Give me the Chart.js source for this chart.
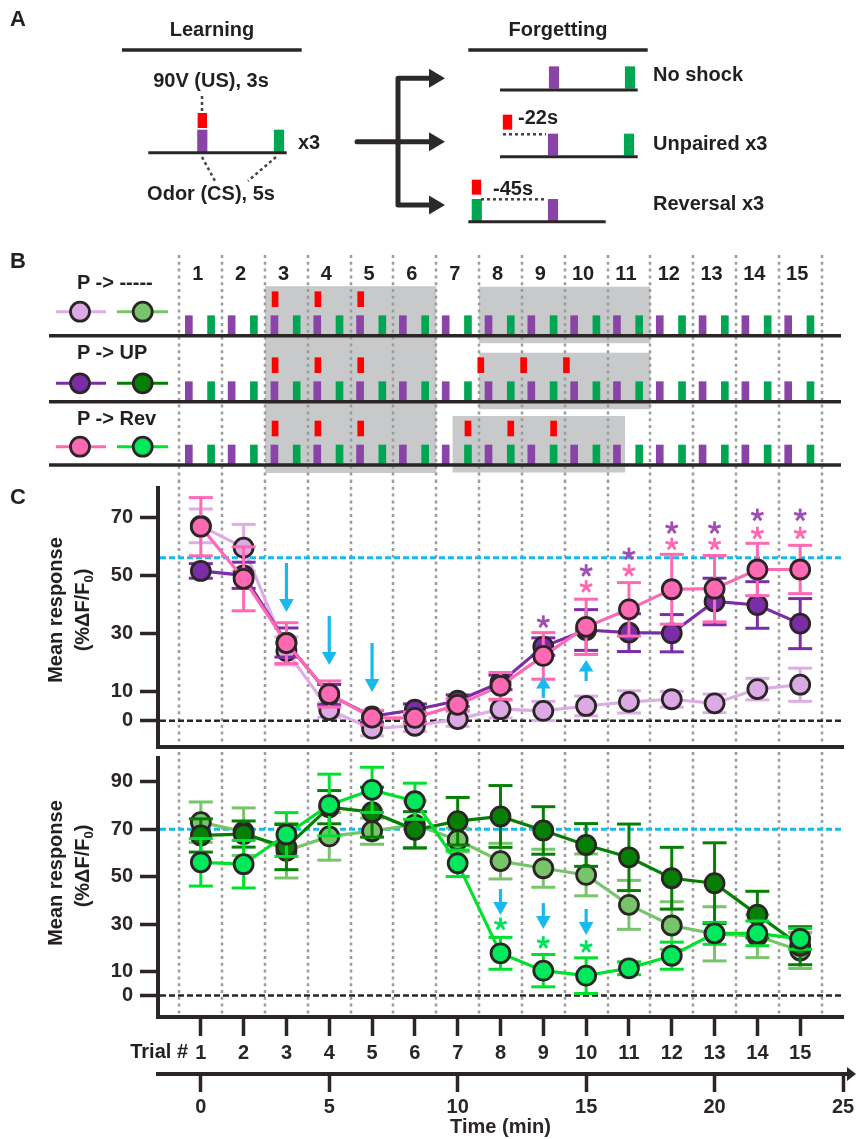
<!DOCTYPE html>
<html>
<head>
<meta charset="utf-8">
<script src="https://cdn.jsdelivr.net/npm/chart.js@4.4.1/dist/chart.umd.min.js"></script>
<style>
html, body { margin: 0; padding: 0; background: #fff; }
#fig { position: relative; width: 856px; height: 1139px; overflow: hidden;
  font-family: "Liberation Sans", Arial, Helvetica, sans-serif; font-weight: bold; color: #231f20; }
#fig canvas { position: absolute; left: 0; }
.t { position: absolute; white-space: nowrap; font-size: 20px; line-height: 20px; }
.c { transform: translate(-50%, -50%); }
.l { transform: translateY(-50%); }
.r { transform: translate(-100%, -50%); }
.v { transform: translate(-50%, -50%) rotate(-90deg); }
.big { font-size: 22px; line-height: 22px; }
sub { font-size: 13px; vertical-align: -4px; line-height: 0; }
</style>
</head>
<body>
<div id="fig">
  <canvas id="chartA" width="856" height="240" style="top:0"></canvas>
  <canvas id="chartB" width="856" height="235" style="top:245px"></canvas>
  <canvas id="chartC1" width="856" height="272" style="top:480px"></canvas>
  <canvas id="chartC2" width="856" height="387" style="top:752px"></canvas>

  <div class="t c big" style="left:18px;top:19px">A</div>
  <div class="t c" style="left:212px;top:29px">Learning</div>
  <div class="t c" style="left:211px;top:80px">90V (US), 3s</div>
  <div class="t c" style="left:211px;top:193px">Odor (CS), 5s</div>
  <div class="t l" style="left:298px;top:142px">x3</div>
  <div class="t c" style="left:558px;top:29px">Forgetting</div>
  <div class="t l" style="left:653px;top:74px">No shock</div>
  <div class="t l" style="left:518px;top:117px">-22s</div>
  <div class="t l" style="left:653px;top:143px">Unpaired x3</div>
  <div class="t l" style="left:493px;top:188px">-45s</div>
  <div class="t l" style="left:653px;top:203px">Reversal x3</div>

  <div class="t c big" style="left:18px;top:261px">B</div>
  <div class="t l" style="left:77px;top:282px">P -&gt; -----</div>
  <div class="t l" style="left:77px;top:352px">P -&gt; UP</div>
  <div class="t l" style="left:77px;top:418px">P -&gt; Rev</div>
  <div id="trialNums"></div>

  <div class="t c big" style="left:18px;top:497px">C</div>
  <div class="t v" style="left:55px;top:610px">Mean response</div>
  <div class="t v" style="left:82px;top:610px">(%ΔF/F<sub>0</sub>)</div>
  <div class="t v" style="left:55px;top:873px">Mean response</div>
  <div class="t v" style="left:82px;top:866px">(%ΔF/F<sub>0</sub>)</div>
  <div class="t r" style="left:188px;top:1051px">Trial #</div>
</div>

<script>
// ---- data ----
const trials = [1, 2, 3, 4, 5, 6, 7, 8, 9, 10, 11, 12, 13, 14, 15];

// C top: responses to the paired odor (P)
const pNoShock    = [67, 59.5, 24, 3.7, -2.7, -1.7, 0.6, 4.0, 3.4, 5.1, 6.5, 7.4, 6.0, 10.9, 12.4];
const pNoShockErr = [5.8, 8, 4.8, 2.5, 2.5, 2, 2.5, 3, 3.3, 3.4, 3.8, 2.7, 3.2, 3.7, 5.7];
const pUnpaired    = [51.5, 50, 26.9, 9, 1.5, 3.8, 6.9, 13.2, 25.5, 31.2, 30.3, 30.1, 41, 39.8, 33.4];
const pUnpairedErr = [2.5, 4.5, 5, 3.5, 2, 2, 2, 2.5, 3, 7, 6.5, 6.4, 8, 8, 8.6];
const pReversal    = [66.7, 48.8, 26.7, 9.2, 1.1, 1.0, 5.5, 12, 22.3, 32.3, 38.3, 45.2, 45.4, 52, 52];
const pReversalErr = [10, 11, 7, 4.5, 2.5, 2, 2, 4.6, 8, 9.5, 9.2, 12, 11.4, 9, 8.3];

// C bottom: responses to the second odor
const gNoShock    = [73, 69, 61, 67, 69.2, 72, 65.5, 56.6, 53.6, 50.8, 38.2, 29.5, 26, 25, 19];
const gNoShockErr = [8.5, 10, 11.5, 10, 5.5, 10, 5, 7.5, 8, 8.8, 10.3, 10, 11.4, 9, 7.6];
const gUnpaired    = [67.4, 68, 62.5, 79.3, 77.2, 69.8, 73.4, 75.4, 69.5, 63.4, 58.2, 49.4, 47.3, 34.1, 21];
const gUnpairedErr = [7, 5.5, 9.5, 7, 10.5, 7.6, 10, 13, 10, 9, 14, 13, 17, 9.8, 8];
const gReversal    = [56.1, 55.3, 67.8, 80.2, 86.6, 81.8, 55.7, 17.8, 10.5, 8.4, 11.5, 16.8, 26.2, 26.2, 23.9];
const gReversalErr = [10, 10, 9.2, 13, 9.5, 7.6, 5.6, 6.7, 6.8, 7.5, 2.7, 5.7, 4.6, 5.2, 4.4];

const topTicks = [0, 10, 30, 50, 70];
const bottomTicks = [0, 10, 30, 50, 70, 90];
const timeTicks = [0, 5, 10, 15, 20, 25];
const topBaseline = 56;
const bottomBaseline = 70;

// significance marks and arrows (trial, level)
const purpleStarTrials = [9, 10, 11, 12, 13, 14, 15];
const purpleStarLevel  = [34, 51.6, 57.3, 66.3, 66.3, 70.7, 70.7];
const pinkStarTrials = [10, 11, 12, 13, 14, 15];
const pinkStarLevel  = [46.1, 51.6, 60.7, 60.7, 64.5, 64.5];
const greenStarTrials = [8, 9, 10];
const greenStarLevel  = [30.1, 22.3, 20.6];
const downArrowTopTrials = [3, 4, 5];
const downArrowTopTip    = [37.4, 19.2, 9.9];
const upArrowTopTrials = [9, 10];
const upArrowTopTip    = [15.1, 20.9];
const downArrowBottomTrials = [8, 9, 10];
const downArrowBottomTip    = [33.9, 28, 25.5];

// B protocol
const protocolRows = ['P -> -----', 'P -> UP', 'P -> Rev'];
const trainShockTrials = [3, 4, 5];
const unpairedShockTrials = [8, 9, 10];
const reversalShockTrials = [7, 8, 9];
const trainWindow = [2.5, 6.5];
const forgetWindows = [[7.5, 11.5], [7.5, 11.5], [6.88, 10.91]];

// A schematic (layout units of the schematic canvas)
const schemPurple = [[202.3, 130, 151.7], [554, 66.7, 88.3], [553, 134, 155], [553, 199.3, 220.7]];
const schemGreen  = [[279, 130, 151.7], [630, 66.7, 88.3], [629, 134, 155], [476.8, 199.3, 220.7]];
const schemShock  = [[202.3, 113.3, 127.7], [507.5, 115, 129.3], [476.5, 180, 194.3]];
const schemRules  = [[122, 301.7, 50], [468.3, 647.7, 50]];
const schemTimelines = [[148.3, 286.7, 152.7], [500, 637.7, 90], [500, 637.7, 156.7], [468.3, 605.7, 221.7]];
const schemDots = [[202, 96, 202, 112], [202, 157, 215, 181], [276, 157, 248, 181], [503, 134.3, 546, 134.3], [481, 199.3, 546, 199.3]];
const forkY = [78.3, 141.7, 205];

// ---- style ----
const COL = {
  lp: '#DBA9E3', lpLine: '#DDAEE6', dp: '#7B2DA7', pk: '#FF69B4',
  lg: '#78C46B', dg: '#058005', bgFill: '#00E85C', bgLine: '#00E02E',
  odorP: '#8A43A6', odorG: '#00A651', shock: '#FF0000', cyan: '#17B9EE',
  ink: '#2B2526', grid: '#9B9B9B', box: '#C7C9CB',
  starP: '#9C50B5', starK: '#FF69B4', starG: '#00E05C'
};
const AXIS_LEFT = 158, TRIAL_PX = 42.8125;
const pxToTrial = px => (px - AXIS_LEFT) / TRIAL_PX;
const rowBase = [90.7, 156.7, 220];
const legendY = [66.7, 138.3, 201.7];
const legendColors = [[COL.lp, COL.lpLine, COL.lg, COL.lg], [COL.dp, COL.dp, COL.dg, COL.dg], [COL.pk, COL.pk, COL.bgFill, COL.bgLine]];

Chart.defaults.font.family = '"Liberation Sans", Arial, Helvetica, sans-serif';
Chart.defaults.font.weight = 'bold';
Chart.defaults.animation = false;
Chart.defaults.plugins.legend.display = false;
Chart.defaults.plugins.tooltip.enabled = false;

const hidden = (min, max, reverse) => ({ type: 'linear', display: false, min, max, reverse: !!reverse, offset: false, bounds: 'data' });

function seg(ctx, x1, y1, x2, y2) { ctx.beginPath(); ctx.moveTo(x1, y1); ctx.lineTo(x2, y2); ctx.stroke(); }
function noPad(s) { s.paddingTop = 0; s.paddingBottom = 0; s.paddingLeft = 0; s.paddingRight = 0; }

// trial numbers above panel B
const tn = document.getElementById('trialNums');
trials.forEach(t => {
  const d = document.createElement('div');
  d.className = 't c';
  d.style.left = (AXIS_LEFT + t * TRIAL_PX - 3) + 'px';
  d.style.top = '273px';
  d.textContent = t;
  tn.appendChild(d);
});

// ---- panel A ----
const schemBar = (rows, color, w) => ({
  type: 'bar', data: rows.map(r => ({ x: r[0], y: [r[1], r[2]] })),
  backgroundColor: color, barThickness: w, grouped: false, borderWidth: 0
});
const schemPlugin = {
  id: 'schem',
  afterDatasetsDraw(chart) {
    const { ctx, scales: { x, y } } = chart;
    const X = v => x.getPixelForValue(v), Y = v => y.getPixelForValue(v);
    ctx.save();
    ctx.strokeStyle = COL.ink; ctx.lineWidth = 3.5;
    schemRules.forEach(r => seg(ctx, X(r[0]), Y(r[2]), X(r[1]), Y(r[2])));
    ctx.lineWidth = 3;
    schemTimelines.forEach(r => seg(ctx, X(r[0]), Y(r[2]), X(r[1]), Y(r[2])));
    ctx.strokeStyle = '#444'; ctx.lineWidth = 2.5; ctx.setLineDash([3, 3]);
    schemDots.forEach(d => seg(ctx, X(d[0]), Y(d[1]), X(d[2]), Y(d[3])));
    ctx.setLineDash([]);
    // branching arrows
    ctx.strokeStyle = '#2d2929'; ctx.fillStyle = '#2d2929'; ctx.lineWidth = 5;
    ctx.lineJoin = 'round'; ctx.lineCap = 'round';
    ctx.beginPath();
    ctx.moveTo(X(432), Y(forkY[0])); ctx.lineTo(X(398), Y(forkY[0]));
    ctx.lineTo(X(398), Y(forkY[2])); ctx.lineTo(X(432), Y(forkY[2]));
    ctx.stroke();
    seg(ctx, X(357), Y(forkY[1]), X(432), Y(forkY[1]));
    forkY.forEach(fy => {
      ctx.beginPath();
      ctx.moveTo(X(445), Y(fy)); ctx.lineTo(X(429), Y(fy) - 9.5); ctx.lineTo(X(429), Y(fy) + 9.5);
      ctx.closePath(); ctx.fill();
    });
    ctx.restore();
  }
};
new Chart(document.getElementById('chartA'), {
  type: 'bar',
  data: { datasets: [schemBar(schemShock, COL.shock, 8.7), schemBar(schemPurple, COL.odorP, 9.5), schemBar(schemGreen, COL.odorG, 9.5)] },
  options: {
    responsive: false, devicePixelRatio: 1, layout: { padding: 0, autoPadding: false },
    scales: { x: hidden(0, 856), y: hidden(0, 240, true) }
  },
  plugins: [schemPlugin]
});

// ---- panel B ----
const odorBars = (offset, color) => ({
  type: 'bar', grouped: false, barThickness: 7, borderWidth: 0, backgroundColor: color,
  data: rowBase.flatMap(b => trials.map(t => ({ x: t + offset, y: [b - 20, b] })))
});
const shockData = [];
rowBase.forEach((b, r) => {
  trainShockTrials.forEach(t => shockData.push({ x: t - 0.265, y: [b - 44, b - 29] }));
  if (r === 1) unpairedShockTrials.forEach(t => shockData.push({ x: t - 0.46, y: [b - 44, b - 29] }));
  if (r === 2) reversalShockTrials.forEach(t => shockData.push({ x: t + 0.24, y: [b - 44, b - 29] }));
});
const legendSets = [];
legendY.forEach((ly, r) => {
  [[56, 80, 106], [117, 142.7, 168]].forEach((xs, k) => {
    legendSets.push({
      type: 'line', data: xs.map(px => ({ x: pxToTrial(px), y: ly })),
      borderColor: legendColors[r][k * 2 + 1], borderWidth: 3,
      pointRadius: [0, 9.5, 0], pointBackgroundColor: legendColors[r][k * 2],
      pointBorderColor: COL.ink, pointBorderWidth: 2.8
    });
  });
});
const protocolPlugin = {
  id: 'protocol',
  beforeDatasetsDraw(chart) {
    const { ctx, scales: { x, y } } = chart;
    ctx.save();
    ctx.fillStyle = COL.box;
    const box = (t0, t1, y0, y1) => ctx.fillRect(x.getPixelForValue(t0), y.getPixelForValue(y0),
      x.getPixelForValue(t1) - x.getPixelForValue(t0), y.getPixelForValue(y1) - y.getPixelForValue(y0));
    box(trainWindow[0], trainWindow[1], rowBase[0] - 49.5, rowBase[2] + 8);
    forgetWindows.forEach((w, r) => box(w[0], w[1], rowBase[r] - 49, rowBase[r] + 7.5));
    ctx.strokeStyle = COL.grid; ctx.lineWidth = 2.5; ctx.setLineDash([3, 3.8]);
    for (let b = 0.5; b < 16; b++) {
      const px = Math.round(x.getPixelForValue(b));
      seg(ctx, px, 10, px, chart.height);
    }
    ctx.restore();
  },
  afterDatasetsDraw(chart) {
    const { ctx, scales: { y } } = chart;
    ctx.save();
    ctx.strokeStyle = COL.ink; ctx.lineWidth = 3.5;
    rowBase.forEach(b => seg(ctx, 49, y.getPixelForValue(b), 841, y.getPixelForValue(b)));
    ctx.restore();
  }
};
new Chart(document.getElementById('chartB'), {
  type: 'bar',
  data: { datasets: [...legendSets, odorBars(-0.28, COL.odorP), odorBars(0.24, COL.odorG),
    { type: 'bar', grouped: false, barThickness: 6, borderWidth: 0, backgroundColor: COL.shock, data: shockData }] },
  options: {
    responsive: false, devicePixelRatio: 1, layout: { padding: 0, autoPadding: false },
    scales: { x: hidden(-AXIS_LEFT / TRIAL_PX, (856 - AXIS_LEFT) / TRIAL_PX), y: hidden(0, 235, true) }
  },
  plugins: [protocolPlugin]
});

// ---- panel C ----
function series(values, errors, line, fill, order) {
  return {
    data: trials.map((t, i) => ({ x: t, y: values[i] })), errors,
    borderColor: line, backgroundColor: fill, borderWidth: 3.2,
    pointRadius: 9.5, pointBackgroundColor: fill, pointBorderColor: COL.ink, pointBorderWidth: 2.8,
    tension: 0, order, clip: false
  };
}
const errorBars = {
  id: 'errorBars',
  beforeDatasetDraw(chart, args) {
    const ds = chart.data.datasets[args.index];
    if (!ds.errors) return;
    const { ctx, scales: { x, y } } = chart;
    ctx.save();
    ctx.strokeStyle = ds.borderColor; ctx.lineWidth = 3;
    ds.data.forEach((p, i) => {
      const px = x.getPixelForValue(p.x);
      const top = y.getPixelForValue(p.y + ds.errors[i]);
      const bot = y.getPixelForValue(p.y - ds.errors[i]);
      seg(ctx, px, top, px, bot);
      seg(ctx, px - 12, top, px + 12, top);
      seg(ctx, px - 12, bot, px + 12, bot);
    });
    ctx.restore();
  }
};
function arrow(ctx, px, tip, len, up) {
  const s = up ? 1 : -1, head = Math.min(13, len * 0.55);
  ctx.lineWidth = 3.2;
  seg(ctx, px, tip + s * len, px, tip + s * (head - 1));
  ctx.beginPath();
  ctx.moveTo(px, tip); ctx.lineTo(px - 7.3, tip + s * head); ctx.lineTo(px + 7.3, tip + s * head);
  ctx.closePath(); ctx.fill();
}
function asterisk(ctx, px, py) {
  ctx.lineWidth = 2.8;
  for (let k = 0; k < 5; k++) {
    const a = -Math.PI / 2 + k * 2 * Math.PI / 5;
    seg(ctx, px, py, px + 6.5 * Math.cos(a), py + 6.5 * Math.sin(a));
  }
}
const panelC = {
  id: 'panelC',
  beforeDatasetsDraw(chart, args, o) {
    const { ctx, chartArea: a, scales: { x, y } } = chart;
    ctx.save();
    ctx.strokeStyle = COL.grid; ctx.lineWidth = 2.5; ctx.setLineDash([3, 3.8]);
    for (let b = 0.5; b < 16; b++) {
      const px = Math.round(x.getPixelForValue(b));
      seg(ctx, px, 0, px, a.bottom - 2);
    }
    ctx.setLineDash([6, 3]); ctx.lineWidth = 2.5; ctx.strokeStyle = COL.ink;
    seg(ctx, a.left + 2, y.getPixelForValue(0), a.right, y.getPixelForValue(0));
    ctx.lineWidth = 3; ctx.strokeStyle = COL.cyan;
    seg(ctx, a.left + 2, y.getPixelForValue(o.baseline), a.right, y.getPixelForValue(o.baseline));
    ctx.restore();
  },
  afterDatasetsDraw(chart, args, o) {
    const { ctx, scales: { x, y } } = chart;
    ctx.save();
    o.stars.forEach(s => {
      ctx.strokeStyle = s.color;
      s.trials.forEach((t, i) => asterisk(ctx, x.getPixelForValue(t), y.getPixelForValue(s.level[i])));
    });
    ctx.strokeStyle = COL.cyan; ctx.fillStyle = COL.cyan;
    o.arrows.forEach(ar => {
      ar.trials.forEach((t, i) => arrow(ctx, x.getPixelForValue(t), y.getPixelForValue(ar.tip[i]), ar.len, ar.up));
    });
    ctx.restore();
  }
};
const tickFont = { size: 20, weight: 'bold' };
const yAxis = (min, max, ticks) => ({
  type: 'linear', min, max, bounds: 'data',
  afterBuildTicks: s => { s.ticks = ticks.map(v => ({ value: v })); },
  afterFit: s => { s.width = AXIS_LEFT; noPad(s); },
  grid: { drawOnChartArea: false, drawTicks: true, tickLength: 18, tickWidth: 3.5, tickColor: COL.ink },
  border: { display: true, width: 4, color: COL.ink },
  ticks: { padding: 7, font: tickFont, color: COL.ink }
});

new Chart(document.getElementById('chartC1'), {
  type: 'line',
  data: { datasets: [
    series(pReversal, pReversalErr, COL.pk, COL.pk, 0),
    series(pUnpaired, pUnpairedErr, COL.dp, COL.dp, 1),
    series(pNoShock, pNoShockErr, COL.lpLine, COL.lp, 2)
  ] },
  options: {
    responsive: false, devicePixelRatio: 1,
    layout: { padding: { top: 8, right: 13, bottom: 0, left: 0 }, autoPadding: false },
    scales: {
      x: { type: 'linear', min: 0, max: 16, bounds: 'data',
        afterFit: s => { s.height = 5; noPad(s); },
        ticks: { display: false }, grid: { drawOnChartArea: false, drawTicks: false },
        border: { display: true, width: 4, color: COL.ink } },
      y: yAxis(-9, 80, topTicks)
    },
    plugins: { panelC: {
      baseline: topBaseline,
      stars: [{ trials: purpleStarTrials, level: purpleStarLevel, color: COL.starP },
              { trials: pinkStarTrials, level: pinkStarLevel, color: COL.starK }],
      arrows: [{ trials: downArrowTopTrials, tip: downArrowTopTip, len: 49, up: false },
               { trials: upArrowTopTrials, tip: upArrowTopTip, len: 21, up: true }]
    } }
  },
  plugins: [errorBars, panelC]
});

const timeAxisArrow = {
  id: 'timeArrow',
  afterDraw(chart) {
    const { ctx, scales: { x2 }, chartArea: a } = chart;
    const yy = x2.top;
    ctx.save();
    ctx.strokeStyle = COL.ink; ctx.fillStyle = COL.ink; ctx.lineWidth = 4;
    seg(ctx, a.right, yy, 849, yy);
    ctx.beginPath(); ctx.moveTo(856, yy); ctx.lineTo(847, yy - 7); ctx.lineTo(847, yy + 7); ctx.closePath(); ctx.fill();
    ctx.restore();
  }
};
new Chart(document.getElementById('chartC2'), {
  type: 'line',
  data: { datasets: [
    series(gReversal, gReversalErr, COL.bgLine, COL.bgFill, 0),
    series(gUnpaired, gUnpairedErr, COL.dg, COL.dg, 1),
    series(gNoShock, gNoShockErr, COL.lg, COL.lg, 2)
  ] },
  options: {
    responsive: false, devicePixelRatio: 1,
    layout: { padding: { top: 6, right: 13, bottom: 0, left: 0 }, autoPadding: false },
    scales: {
      x: { type: 'linear', position: 'bottom', weight: 0, min: 0, max: 16, bounds: 'data',
        afterBuildTicks: s => { s.ticks = trials.map(v => ({ value: v })); },
        afterFit: s => { s.height = 57; noPad(s); },
        grid: { drawOnChartArea: false, drawTicks: true, tickLength: 19, tickWidth: 3.5, tickColor: COL.ink },
        border: { display: true, width: 4, color: COL.ink },
        ticks: { padding: 5, font: tickFont, color: COL.ink, autoSkip: false, maxRotation: 0 } },
      x2: { type: 'linear', position: 'bottom', weight: 1, min: -5 / 3, max: 25, bounds: 'data',
        afterBuildTicks: s => { s.ticks = timeTicks.map(v => ({ value: v })); },
        afterFit: s => { s.height = 65; noPad(s); },
        grid: { drawOnChartArea: false, drawTicks: true, tickLength: 18, tickWidth: 3.5, tickColor: COL.ink },
        border: { display: true, width: 4, color: COL.ink },
        ticks: { padding: 3, font: tickFont, color: COL.ink, autoSkip: false, maxRotation: 0 },
        title: { display: true, text: 'Time (min)', font: tickFont, color: COL.ink, padding: { top: 0, bottom: 0 } } },
      y: yAxis(-9, 100, bottomTicks)
    },
    plugins: { panelC: {
      baseline: bottomBaseline,
      stars: [{ trials: greenStarTrials, level: greenStarLevel, color: COL.starG }],
      arrows: [{ trials: downArrowBottomTrials, tip: downArrowBottomTip, len: 26, up: false }]
    } }
  },
  plugins: [errorBars, panelC, timeAxisArrow]
});
</script>
</body>
</html>
